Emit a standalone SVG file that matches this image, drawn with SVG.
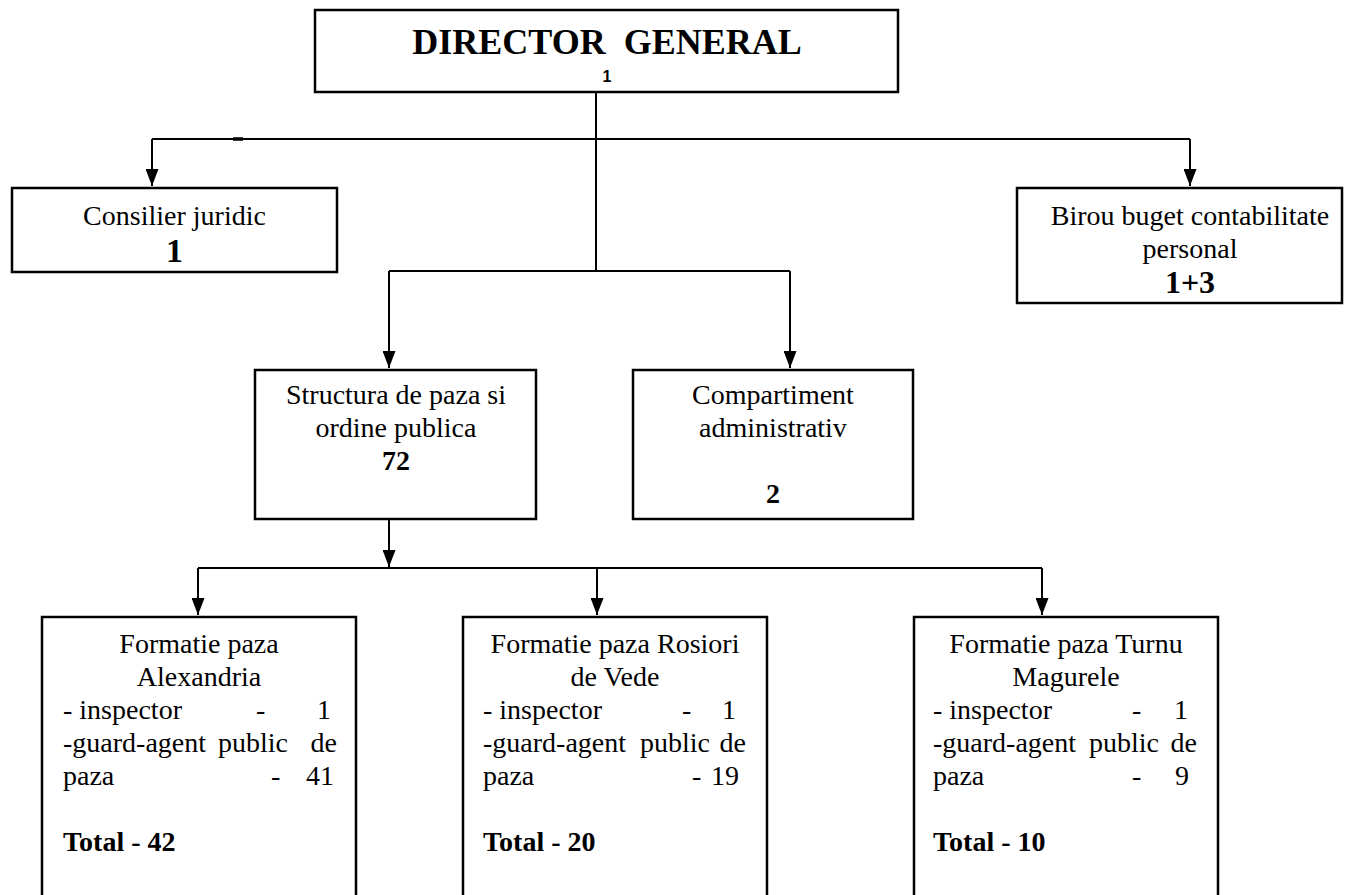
<svg xmlns="http://www.w3.org/2000/svg" width="1346" height="895" viewBox="0 0 1346 895">
<style>
.box{fill:#fff;stroke:#000;stroke-width:2.5}
.con{fill:none;stroke:#000;stroke-width:2}
text{font-family:"Liberation Serif","Times New Roman",serif;font-size:28px;fill:#000}
.c{text-anchor:middle}
.e{text-anchor:end}
.b{font-weight:bold}
</style>
<defs>
<marker id="ah" viewBox="0 0 17 13" refX="17" refY="6.5" markerWidth="17" markerHeight="13" markerUnits="userSpaceOnUse" orient="auto">
<path d="M0,0 L17,6.5 L0,13 z" fill="#000"/>
</marker>
</defs>
<rect width="1346" height="895" fill="#fff"/>
<g id="connectors">
<path class="con" d="M596,92 V271"/>
<path class="con" d="M152,139 H1190"/>
<path class="con" d="M152,139 V186" marker-end="url(#ah)"/>
<path class="con" d="M1190,139 V186" marker-end="url(#ah)"/>
<path d="M233,139 H243" stroke="#000" stroke-width="3.5"/>
<path class="con" d="M389,271 H790"/>
<path class="con" d="M389,271 V368" marker-end="url(#ah)"/>
<path class="con" d="M790,271 V368" marker-end="url(#ah)"/>
<path class="con" d="M389,519 V567" marker-end="url(#ah)"/>
<path class="con" d="M198,568 H1042"/>
<path class="con" d="M198,568 V615" marker-end="url(#ah)"/>
<path class="con" d="M597,568 V615" marker-end="url(#ah)"/>
<path class="con" d="M1042,568 V615" marker-end="url(#ah)"/>
</g>
<g id="director">
<rect class="box" x="315" y="10" width="583" height="82"/>
<text class="c b" x="607" y="54" style="font-size:36px" xml:space="preserve">DIRECTOR  GENERAL</text>
<text class="c b" x="607" y="82" style="font-family:'Liberation Sans',Arial,sans-serif;font-size:16px">1</text>
</g>
<g id="consilier">
<rect class="box" x="12" y="188" width="325" height="84"/>
<text class="c" x="174.5" y="225">Consilier juridic</text>
<text class="c b" x="174.5" y="262" style="font-size:34px">1</text>
</g>
<g id="birou">
<rect class="box" x="1017" y="188" width="325" height="115"/>
<text class="c" x="1190" y="225">Birou buget contabilitate</text>
<text class="c" x="1190" y="258">personal</text>
<text class="c b" x="1190" y="293" style="font-size:32px">1+3</text>
</g>
<g id="structura">
<rect class="box" x="255" y="370" width="281" height="149"/>
<text class="c" x="396" y="404">Structura de paza si</text>
<text class="c" x="396" y="437">ordine publica</text>
<text class="c b" x="396" y="470">72</text>
</g>
<g id="compartiment">
<rect class="box" x="633" y="370" width="280" height="149"/>
<text class="c" x="773" y="404">Compartiment</text>
<text class="c" x="773" y="437">administrativ</text>
<text class="c b" x="773" y="503">2</text>
</g>
<g id="alexandria">
<rect class="box" x="42" y="617" width="314" height="300"/>
<text class="c" x="199" y="653">Formatie paza</text>
<text class="c" x="199" y="686">Alexandria</text>
<text x="63" y="719">- inspector</text>
<text x="256" y="719">-</text>
<text class="e" x="331" y="719">1</text>
<text x="63" y="752">-guard-agent</text>
<text x="218" y="752">public</text>
<text class="e" x="337" y="752">de</text>
<text x="63" y="785">paza</text>
<text x="271" y="785">-</text>
<text class="e" x="334" y="785">41</text>
<text class="b" x="63" y="851">Total - 42</text>
</g>
<g id="rosiori">
<rect class="box" x="463" y="617" width="304" height="300"/>
<text class="c" x="615" y="653">Formatie paza Rosiori</text>
<text class="c" x="615" y="686">de Vede</text>
<text x="483" y="719">- inspector</text>
<text x="682" y="719">-</text>
<text class="e" x="736" y="719">1</text>
<text x="483" y="752">-guard-agent</text>
<text x="640" y="752">public</text>
<text class="e" x="746" y="752">de</text>
<text x="483" y="785">paza</text>
<text x="692" y="785">-</text>
<text class="e" x="739" y="785">19</text>
<text class="b" x="483" y="851">Total - 20</text>
</g>
<g id="turnu">
<rect class="box" x="914" y="617" width="304" height="300"/>
<text class="c" x="1066" y="653">Formatie paza Turnu</text>
<text class="c" x="1066" y="686">Magurele</text>
<text x="933" y="719">- inspector</text>
<text x="1132" y="719">-</text>
<text class="e" x="1188" y="719">1</text>
<text x="933" y="752">-guard-agent</text>
<text x="1089" y="752">public</text>
<text class="e" x="1197" y="752">de</text>
<text x="933" y="785">paza</text>
<text x="1132" y="785">-</text>
<text class="e" x="1189" y="785">9</text>
<text class="b" x="933" y="851">Total - 10</text>
</g>
</svg>
